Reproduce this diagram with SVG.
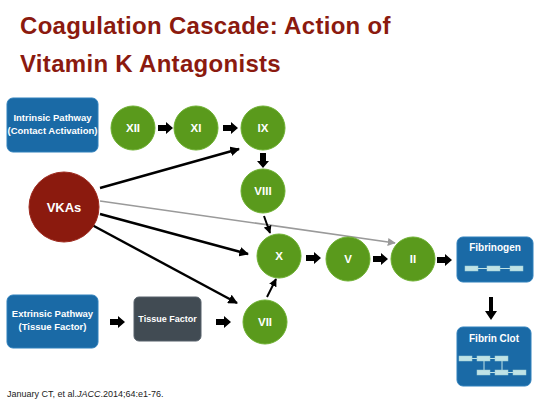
<svg xmlns="http://www.w3.org/2000/svg" width="540" height="405" viewBox="0 0 540 405">
<style>
.title{font-family:"Liberation Sans",Arial,sans-serif;font-weight:bold;font-size:24px;fill:#8B1A0F;letter-spacing:0.3px}
.lbl{font-family:"Liberation Sans",Arial,sans-serif;font-weight:bold;fill:#fff;text-anchor:middle}
.green{fill:#5A9A1C;stroke:#6DB030;stroke-width:1}
.blue{fill:#1A6AA6;stroke:#2F80BC;stroke-width:1}
.fib{fill:#BFE3E6;stroke:#9FCFD6;stroke-width:0.5}
.fl{stroke:#BFE3E6;stroke-width:1}
.blk{fill:#000}
.thin{stroke:#000;stroke-width:2.4;fill:none;marker-end:url(#ah)}
.gray{stroke:#9A9A9A;stroke-width:1.6;fill:none;marker-end:url(#ahg)}
.cite{font-family:"Liberation Sans",Arial,sans-serif;font-size:9px;fill:#222}
</style>
<defs>
<marker id="ah" viewBox="0 0 10 10" refX="9" refY="5" markerWidth="4" markerHeight="4" orient="auto" markerUnits="strokeWidth">
<path d="M0,0 L10,5 L0,10 z" fill="#000"/>
</marker>
<marker id="ahg" viewBox="0 0 10 10" refX="9" refY="5" markerWidth="5" markerHeight="5" orient="auto" markerUnits="strokeWidth">
<path d="M0,0 L10,5 L0,10 z" fill="#9A9A9A"/>
</marker>
</defs>
<rect width="540" height="405" fill="#fff"/>
<text class="title" x="20" y="34">Coagulation Cascade: Action of</text>
<text class="title" x="20" y="72">Vitamin K Antagonists</text>

<g id="connectors">
<line class="thin" x1="100" y1="188" x2="239" y2="149"/>
<line class="gray" x1="100" y1="201" x2="395" y2="243"/>
<line class="thin" x1="100" y1="214" x2="248" y2="254"/>
<line class="thin" x1="92" y1="225" x2="237" y2="303"/>
<line class="thin" style="stroke-width:2" x1="264" y1="216" x2="270" y2="233"/>
<line class="thin" style="stroke-width:2" x1="267" y1="297" x2="276" y2="279"/>
<polygon class="blk" points="158,125 166,125 166,122 173,128 166,134 166,131 158,131"/>
<polygon class="blk" points="223,125 231,125 231,122 238,128 231,134 231,131 223,131"/>
<polygon class="blk" points="260,153 266,153 266,161 269,161 263,168 257,161 260,161"/>
<polygon class="blk" points="306,255 314,255 314,252 321,258 314,264 314,261 306,261"/>
<polygon class="blk" points="373,256 381,256 381,253 388,259 381,265 381,262 373,262"/>
<polygon class="blk" points="437,257 445,257 445,254 452,260 445,266 445,263 437,263"/>
<polygon class="blk" points="110,319 118,319 118,316 125,322 118,328 118,325 110,325"/>
<polygon class="blk" points="216,319 224,319 224,316 231,322 224,328 224,325 216,325"/>
<polygon class="blk" points="489,297 493,297 493,311 497,311 491,320 485,311 489,311"/>
</g>

<g id="intrinsic">
<rect class="blue" x="7" y="98" width="91" height="54" rx="6"/>
<text class="lbl" font-size="9.5" x="52.5" y="121">Intrinsic Pathway</text>
<text class="lbl" font-size="9.5" x="52.5" y="134">(Contact Activation)</text>
</g>
<g id="xii"><circle class="green" cx="133" cy="128" r="22"/><text class="lbl" font-size="11.5" x="133" y="132">XII</text></g>
<g id="xi"><circle class="green" cx="196" cy="128" r="22"/><text class="lbl" font-size="11.5" x="196" y="132">XI</text></g>
<g id="ix"><circle class="green" cx="263" cy="128" r="22"/><text class="lbl" font-size="11.5" x="263" y="132">IX</text></g>
<g id="viii"><circle class="green" cx="263" cy="191" r="22"/><text class="lbl" font-size="11.5" x="263" y="195">VIII</text></g>
<g id="vkas"><circle cx="64" cy="207" r="35" fill="#8B1A0E" stroke="#9E2A1E"/><text class="lbl" font-size="13" x="64" y="212">VKAs</text></g>
<g id="x"><circle class="green" cx="279" cy="256" r="22"/><text class="lbl" font-size="11.5" x="279" y="260">X</text></g>
<g id="v"><circle class="green" cx="348" cy="259" r="22"/><text class="lbl" font-size="11.5" x="348" y="263">V</text></g>
<g id="ii"><circle class="green" cx="413" cy="259" r="22"/><text class="lbl" font-size="11.5" x="413" y="263">II</text></g>
<g id="vii"><circle class="green" cx="265" cy="322" r="22"/><text class="lbl" font-size="11.5" x="265" y="326">VII</text></g>
<g id="extrinsic">
<rect class="blue" x="7" y="295" width="91" height="53" rx="6"/>
<text class="lbl" font-size="9.5" x="52.5" y="317">Extrinsic Pathway</text>
<text class="lbl" font-size="9.5" x="52.5" y="330">(Tissue Factor)</text>
</g>
<g id="tissue">
<rect x="134" y="297" width="67" height="44" rx="5" fill="#414B53" stroke="#56606A"/>
<text class="lbl" font-size="9" x="167.5" y="322">Tissue Factor</text>
</g>
<g id="fibrinogen">
<rect class="blue" x="457" y="237" width="76" height="45" rx="6"/>
<text class="lbl" font-size="10" x="495" y="251">Fibrinogen</text>
<line class="fl" x1="470" y1="268.5" x2="518" y2="268.5"/>
<rect class="fib" x="465" y="266" width="13" height="5"/>
<rect class="fib" x="487" y="266" width="13" height="5"/>
<rect class="fib" x="510" y="266" width="13" height="5"/>
</g>
<g id="fibrinclot">
<rect class="blue" x="457" y="327" width="74" height="59" rx="6"/>
<text class="lbl" font-size="10" x="494" y="342">Fibrin Clot</text>
<line class="fl" x1="465" y1="358.5" x2="502" y2="358.5"/>
<line class="fl" x1="483" y1="372.5" x2="520" y2="372.5"/>
<line class="fl" x1="484" y1="358" x2="484" y2="372"/>
<line class="fl" x1="502" y1="358" x2="502" y2="372"/>
<rect class="fib" x="459" y="356" width="13" height="5"/>
<rect class="fib" x="477" y="356" width="13" height="5"/>
<rect class="fib" x="495" y="356" width="13" height="5"/>
<rect class="fib" x="477" y="370" width="13" height="5"/>
<rect class="fib" x="495" y="370" width="13" height="5"/>
<rect class="fib" x="513" y="370" width="13" height="5"/>
</g>
<text class="cite" x="7" y="397">January CT, et al.<tspan font-style="italic">JACC</tspan>.2014;64:e1-76.</text>
</svg>
